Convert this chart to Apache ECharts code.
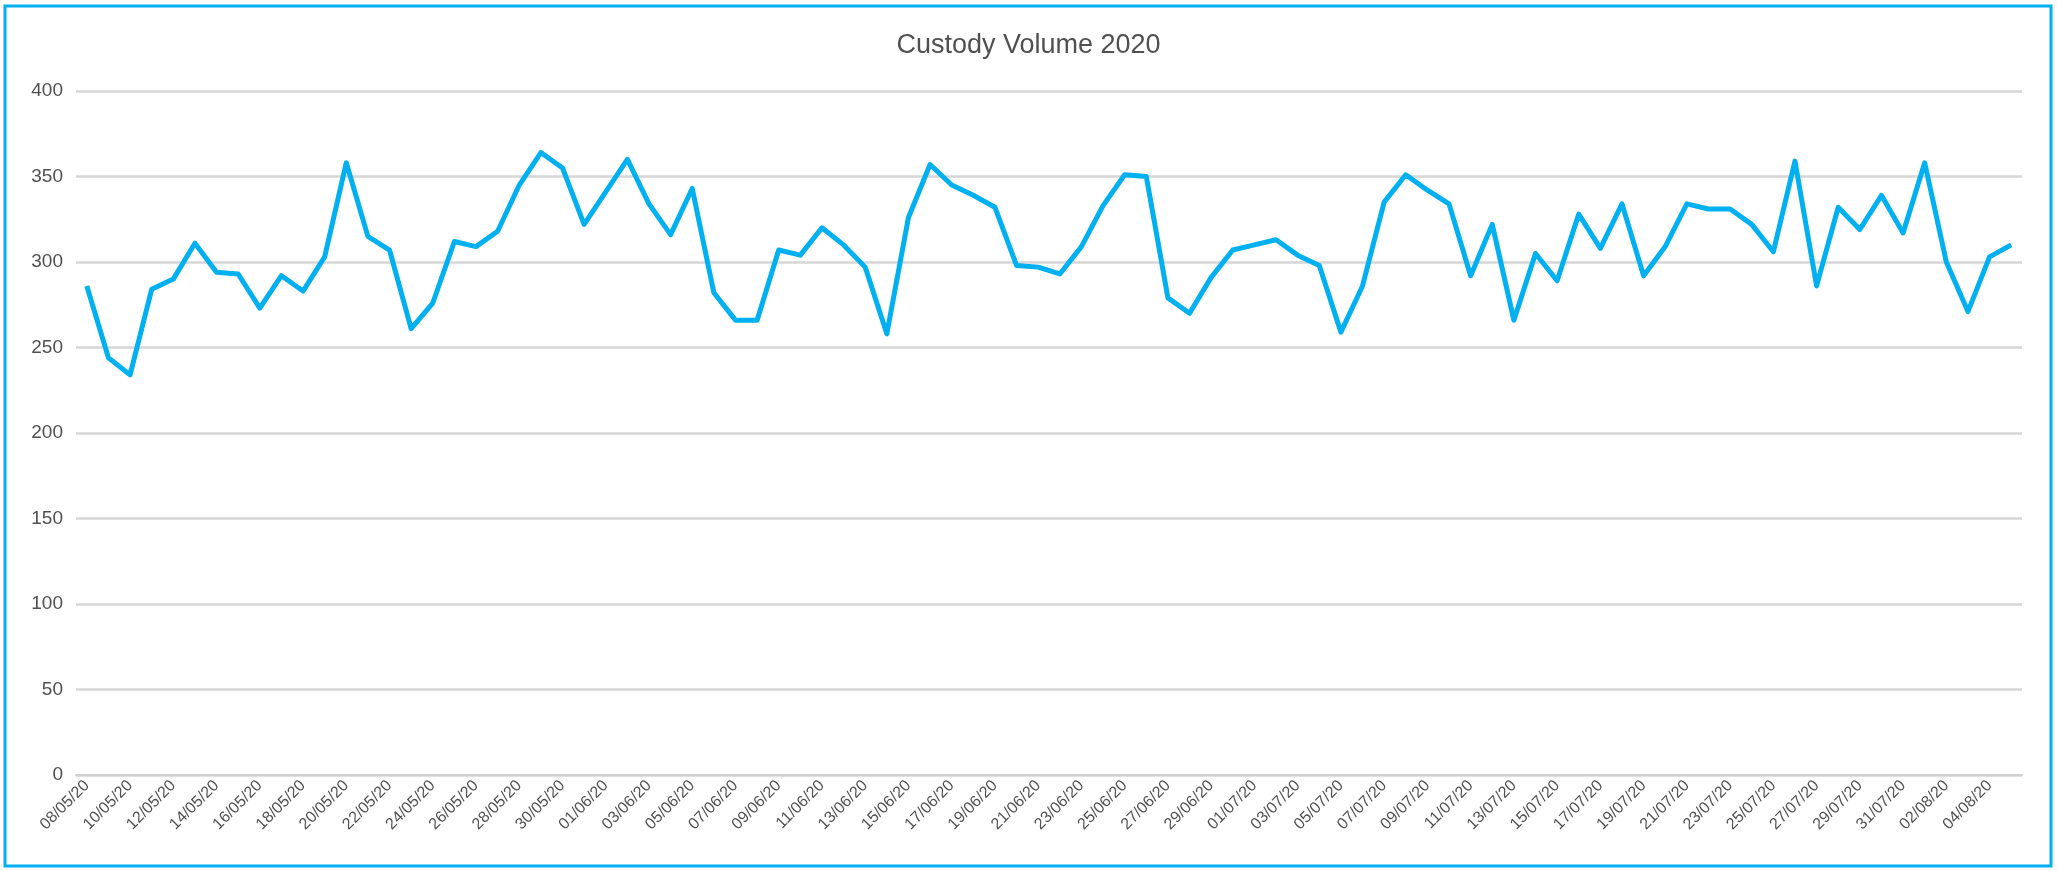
<!DOCTYPE html>
<html>
<head>
<meta charset="utf-8">
<script src="https://cdn.jsdelivr.net/npm/echarts@6/dist/echarts.min.js"></script>
<style>
html,body{margin:0;padding:0;background:#fff;}
#chart{width:2057px;height:870px;}
</style>
</head>
<body>
<div id="chart"></div>
<script>
const chartTitle = "Custody Volume 2020";
const dates = [
"08/05/20","09/05/20","10/05/20","11/05/20","12/05/20","13/05/20","14/05/20","15/05/20","16/05/20","17/05/20",
"18/05/20","19/05/20","20/05/20","21/05/20","22/05/20","23/05/20","24/05/20","25/05/20","26/05/20","27/05/20",
"28/05/20","29/05/20","30/05/20","31/05/20","01/06/20","02/06/20","03/06/20","04/06/20","05/06/20","06/06/20",
"07/06/20","08/06/20","09/06/20","10/06/20","11/06/20","12/06/20","13/06/20","14/06/20","15/06/20","16/06/20",
"17/06/20","18/06/20","19/06/20","20/06/20","21/06/20","22/06/20","23/06/20","24/06/20","25/06/20","26/06/20",
"27/06/20","28/06/20","29/06/20","30/06/20","01/07/20","02/07/20","03/07/20","04/07/20","05/07/20","06/07/20",
"07/07/20","08/07/20","09/07/20","10/07/20","11/07/20","12/07/20","13/07/20","14/07/20","15/07/20","16/07/20",
"17/07/20","18/07/20","19/07/20","20/07/20","21/07/20","22/07/20","23/07/20","24/07/20","25/07/20","26/07/20",
"27/07/20","28/07/20","29/07/20","30/07/20","31/07/20","01/08/20","02/08/20","03/08/20","04/08/20","05/08/20"
];
const volumes = [
286,244,234,284,290,311,294,293,273,292,
283,303,358,315,307,261,276,312,309,318,
345,364,355,322,341,360,334,316,343,282,
266,266,307,304,320,310,297,258,326,357,
345,339,332,298,297,293,309,333,351,350,
279,270,291,307,310,313,304,298,259,286,
335,351,342,334,292,322,266,305,289,328,
308,334,292,309,334,331,331,322,306,359,
286,332,319,339,317,358,300,271,303,310
];
const yMin = 0, yMax = 400, yStep = 50;

const chart = echarts.init(document.getElementById('chart'), null, {renderer:'canvas'});
chart.setOption({
  animation: false,
  backgroundColor: '#ffffff',
  title: {
    text: chartTitle,
    left: 'center',
    top: 27,
    textStyle: {color:'#505050', fontSize: 27, fontWeight:'normal', fontFamily:'Liberation Sans, Arial, sans-serif'}
  },
  graphic: [{
    type:'rect', silent:true,
    shape:{x:5, y:6, width:2046, height:860},
    style:{fill:'none', stroke:'#00B0F0', lineWidth:3}
  }],
  grid: {left:76, right:35, top:91, bottom:95, containLabel:false},
  xAxis: {
    type:'category',
    data: dates,
    boundaryGap: true,
    axisLine: {show:true, lineStyle:{color:'#D0D0D0', width:2}},
    axisTick: {show:false},
    axisLabel: {
      interval: 1, rotate: 45, color:'#505050', fontSize: 16, margin: 8,
      fontFamily:'Liberation Sans, Arial, sans-serif'
    },
    splitLine: {show:false}
  },
  yAxis: {
    type:'value', min:yMin, max:yMax, interval:yStep,
    axisLine:{show:false}, axisTick:{show:false},
    axisLabel:{color:'#505050', fontSize:19, margin:13, fontFamily:'Liberation Sans, Arial, sans-serif'},
    splitLine:{show:true, lineStyle:{color:'#D6D6D6', width:2.5}}
  },
  series: [{
    type:'line',
    data: volumes,
    symbol:'none',
    lineStyle:{color:'#00B0F0', width:5, join:'round'},
    itemStyle:{color:'#00B0F0'}
  }]
});
</script>
</body>
</html>
